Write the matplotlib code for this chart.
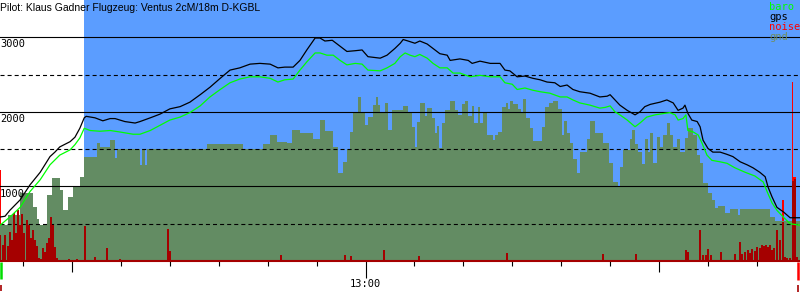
"""
Barogram of a glider flight: gps and baro altitude, ground elevation, engine noise.
"""

import matplotlib
matplotlib.use('Agg')
import matplotlib.pyplot as plt
from matplotlib.ticker import FixedLocator

plt.rcParams['lines.scale_dashes'] = False

# time axis in minutes after midnight
T_START, T_END = 705.28, 868.82
task_start = 722.5
takeoff, landing = 705.5, 868.4

title = 'Pilot: Klaus Gadner Flugzeug: Ventus 2cM/18m D-KGBL'

gps_t = [705.3, 706.3, 707.3, 709.4, 711.4, 713.5, 715.5, 716.5, 717.5, 719.6,
         720.6, 721.6, 722.5, 722.9, 724.7, 726.3, 727.8, 728.8, 730.8, 732.9,
         733.9, 736.0, 738.0, 740.0, 742.1, 744.1, 746.2, 748.2, 750.3, 752.3,
         754.3, 756.4, 758.4, 760.5, 762.1, 763.5, 765.2, 766.6, 768.0, 769.7,
         770.7, 771.7, 773.2, 774.8, 776.2, 777.9, 779.3, 780.5, 783.0, 784.4,
         786.0, 787.1, 787.7, 788.7, 790.1, 791.1, 792.6, 794.2, 795.2, 796.7,
         797.3, 799.3, 801.0, 801.8, 803.4, 805.5, 807.5, 808.5, 809.5, 811.0,
         812.6, 814.2, 815.7, 817.1, 818.7, 819.8, 821.2, 822.4, 823.8, 825.9,
         827.9, 829.4, 830.0, 831.0, 832.0, 833.5, 835.1, 836.1, 837.1, 838.2,
         840.2, 841.6, 842.9, 843.9, 844.9, 845.3, 845.9, 846.7, 847.8, 848.4,
         849.0, 850.0, 851.0, 852.5, 853.9, 855.1, 856.6, 858.0, 859.2, 860.6,
         861.7, 862.3, 863.1, 864.1, 865.4, 866.8, 868.8]
gps_alt = [590, 600, 680, 820, 1020, 1190, 1400, 1460, 1530, 1600,
           1660, 1780, 1920, 1940, 1920, 1880, 1910, 1910, 1870, 1850,
           1870, 1920, 1970, 2040, 2070, 2130, 2230, 2330, 2450, 2560,
           2590, 2640, 2650, 2640, 2590, 2600, 2600, 2690, 2830, 2990,
           2990, 2950, 2960, 2880, 2810, 2820, 2830, 2740, 2720, 2760,
           2850, 2920, 2970, 2950, 2920, 2950, 2910, 2830, 2780, 2760,
           2690, 2710, 2690, 2650, 2680, 2650, 2650, 2560, 2550, 2470,
           2480, 2450, 2430, 2400, 2390, 2340, 2360, 2300, 2270, 2250,
           2200, 2210, 2230, 2160, 2090, 2020, 1960, 2000, 2070, 2100,
           2130, 2160, 2120, 2020, 2050, 2090, 1980, 1890, 1870, 1800,
           1620, 1510, 1460, 1460, 1430, 1400, 1330, 1290, 1250, 1190,
           1130, 990, 860, 720, 660, 580, 580]

baro_t = [705.3, 707.3, 709.4, 711.4, 713.5, 715.5, 717.5, 719.6, 720.6, 721.6,
          722.5, 723.7, 725.7, 727.8, 729.8, 732.5, 733.9, 736.0, 738.0, 740.0,
          742.1, 744.1, 746.2, 748.2, 750.3, 752.3, 754.3, 756.4, 758.4, 760.5,
          762.1, 763.5, 765.2, 766.6, 768.0, 769.7, 770.7, 772.1, 773.4, 774.8,
          776.2, 777.9, 779.3, 780.5, 783.0, 784.4, 786.0, 787.1, 788.1, 789.1,
          790.1, 791.1, 792.6, 793.8, 795.2, 796.7, 797.9, 799.3, 801.4, 803.4,
          805.5, 807.5, 808.5, 810.0, 811.0, 812.6, 814.2, 815.7, 817.7, 819.8,
          821.2, 822.4, 823.8, 825.9, 827.9, 829.0, 830.0, 831.0, 832.0, 833.5,
          835.1, 836.1, 837.5, 839.2, 841.2, 842.2, 843.3, 843.9, 844.9, 845.5,
          845.9, 847.0, 848.0, 848.8, 849.8, 850.8, 852.5, 853.9, 855.5, 857.6,
          859.6, 861.3, 862.1, 863.1, 864.1, 865.4, 866.8, 868.8]
baro_alt = [480, 590, 720, 930, 1090, 1290, 1420, 1490, 1560, 1650,
            1780, 1750, 1740, 1750, 1730, 1700, 1700, 1750, 1820, 1890,
            1930, 1990, 2080, 2200, 2300, 2390, 2440, 2470, 2470, 2450,
            2400, 2430, 2440, 2560, 2670, 2790, 2790, 2760, 2760, 2690,
            2630, 2650, 2640, 2560, 2550, 2590, 2650, 2740, 2790, 2760,
            2740, 2770, 2720, 2650, 2590, 2590, 2520, 2520, 2470, 2490,
            2470, 2470, 2390, 2370, 2300, 2320, 2290, 2270, 2250, 2200,
            2200, 2160, 2120, 2090, 2050, 2060, 2080, 2000, 1960, 1890,
            1800, 1850, 1930, 1960, 1980, 1990, 1960, 1890, 1910, 1960,
            1750, 1730, 1690, 1580, 1420, 1350, 1330, 1310, 1250, 1190,
            1140, 1060, 930, 780, 680, 590, 500, 480]

# ground elevation, each value holds until the next time
gnd_t = [705.3, 706.9, 709.4, 712.0, 712.8, 713.3, 714.9, 715.9, 717.5, 718.2,
         719.2, 720.2, 721.6, 722.5, 725.1, 725.7, 727.8, 728.8, 729.2, 733.9,
         734.3, 734.9, 735.3, 746.2, 747.6, 755.0, 759.0, 760.5, 761.9, 764.0,
         765.0, 766.6, 769.3, 770.7, 771.7, 773.4, 774.4, 775.4, 776.2, 776.8,
         777.4, 778.5, 779.1, 779.9, 780.5, 781.5, 782.1, 782.6, 783.0, 784.0,
         784.6, 785.4, 787.7, 788.7, 789.5, 790.1, 790.5, 791.1, 792.2, 792.6,
         793.6, 794.2, 794.6, 795.0, 795.6, 796.3, 797.3, 798.3, 798.9, 799.7,
         800.3, 801.0, 801.8, 802.2, 803.0, 803.4, 804.0, 804.8, 806.1, 806.5,
         807.1, 807.9, 808.7, 809.1, 809.5, 810.2, 811.2, 811.8, 812.2, 812.8,
         813.6, 814.2, 816.1, 816.7, 817.5, 818.3, 819.4, 820.2, 820.6, 821.2,
         821.8, 822.4, 823.2, 823.8, 825.3, 825.9, 826.9, 828.5, 829.8, 830.6,
         831.6, 832.0, 832.6, 834.1, 834.5, 835.1, 835.7, 836.5, 837.1, 837.8,
         838.2, 838.8, 839.6, 840.2, 840.8, 841.6, 842.2, 842.9, 843.7, 844.3,
         845.3, 845.9, 847.0, 847.8, 848.4, 849.0, 850.0, 850.8, 851.4, 852.1,
         853.5, 854.5, 856.2, 856.6, 862.7, 863.7, 868.8]
gnd_alt = [480, 620, 910, 720, 560, 480, 880, 1110, 950, 680,
           860, 990, 1130, 1400, 1580, 1530, 1620, 1380, 1500, 1290,
           1500, 1290, 1500, 1500, 1570, 1500, 1570, 1690, 1600, 1580,
           1750, 1710, 1640, 1890, 1740, 1530, 1180, 1330, 1500, 1730,
           1980, 2200, 1980, 1830, 1930, 2090, 2200, 2090, 1980, 2120,
           1750, 2020, 2080, 1980, 1800, 1530, 1860, 2120, 1940, 2050,
           1920, 1710, 1810, 1510, 1850, 2020, 2140, 2020, 1960, 2100,
           2140, 1950, 2080, 1850, 2070, 1850, 2000, 1690, 1620, 1690,
           1730, 2060, 2120, 2040, 2140, 2100, 2040, 1980, 2170, 1920,
           1780, 1610, 1800, 2060, 2120, 2140, 2040, 1690, 1880, 1710,
           1580, 1370, 1180, 1460, 1630, 1880, 1710, 1580, 1310, 1060,
           1000, 1260, 1490, 1630, 1750, 1570, 1460, 1300, 1630, 1460,
           1710, 1310, 1660, 1530, 1690, 1850, 1690, 1530, 1630, 1460,
           1650, 1780, 1690, 1420, 1310, 1045, 910, 820, 710, 740,
           640, 700, 620, 700, 590, 540, 540]

# engine noise level (same scale)
noise_t = [705.3, 705.9, 706.3, 706.9, 707.3, 707.7, 708.1, 708.5, 709.0, 709.4,
           709.8, 710.2, 710.8, 711.2, 711.6, 712.0, 712.4, 712.8, 713.3, 713.7,
           714.1, 714.5, 714.9, 715.3, 715.7, 716.1, 716.5, 716.9, 719.4, 721.0,
           722.7, 724.7, 727.2, 729.8, 739.6, 740.0, 758.6, 762.7, 769.3, 775.8,
           777.0, 783.8, 790.9, 808.9, 828.5, 835.3, 845.5, 845.9, 848.4, 849.0,
           849.6, 850.0, 850.6, 852.7, 855.5, 856.6, 857.0, 857.6, 858.2, 858.6,
           859.0, 859.6, 860.0, 860.6, 861.1, 861.5, 861.9, 862.3, 862.7, 863.1,
           863.5, 864.1, 864.7, 865.4, 865.8, 866.2, 866.8, 867.4, 867.8, 868.2]
noise_lvl = [350, 210, 350, 200, 390, 280, 640, 380, 680, 480,
             630, 380, 550, 480, 310, 420, 280, 200, 40, 30,
             170, 120, 240, 310, 590, 480, 190, 40, 30, 30,
             470, 60, 170, 30, 430, 130, 20, 80, 20, 80,
             70, 150, 70, 110, 90, 100, 150, 120, 420, 80,
             80, 160, 80, 120, 90, 250, 100, 120, 150, 110,
             160, 140, 190, 180, 210, 200, 220, 190, 210, 150,
             170, 420, 280, 520, 60, 40, 40, 1070, 1100, 60]

# noise peaks
peak_t = [705.3, 865.4, 867.3, 867.7]
peak_lvl = [1220, 820, 2400, 1130]
peak_w = [0.2, 0.41, 0.3, 0.7]

BLUE = '#5b9dff'
GND = '#638c63'
DARKRED = '#a50000'
RED = '#ff0000'
GREEN = '#00ff00'
MONO = 'DejaVu Sans Mono'

fig = plt.figure(figsize=(8, 3), dpi=100)
ax = fig.add_axes([0, 39 / 300, 1, 261 / 300])
ax.set_xlim(T_START, T_END)
ax.set_ylim(0, 3500)
for s in ax.spines.values():
    s.set_visible(False)

ax.axvspan(task_start, T_END, color=BLUE, lw=0, zorder=0)
# peaks sit behind the ground, the mean noise in front of it
ax.bar(peak_t, peak_lvl, width=peak_w, color=RED, lw=0, zorder=0.5)
ax.fill_between(gnd_t, gnd_alt, step='post', color=GND, lw=0, zorder=1)

for v in [1000, 2000, 3000]:
    ax.axhline(v, color='black', lw=0.8, zorder=2)
for v in [500, 1500, 2500]:
    ax.axhline(v, color='black', lw=0.8, ls=(0, (2.9, 2.2)), zorder=2)

ax.bar(noise_t, noise_lvl, width=0.41, color=DARKRED, lw=0, zorder=3)
ax.axhline(0, color=DARKRED, lw=1.5, clip_on=False, zorder=3)

ax.plot(baro_t, baro_alt, color=GREEN, lw=0.9, zorder=4)
ax.plot(gps_t, gps_alt, color='black', lw=0.9, zorder=5)

# altitude labels under the solid lines
for v in [1000, 2000, 3000]:
    ax.annotate(str(v), (0, v), xycoords=ax.get_yaxis_transform(),
                xytext=(0, -1.5), textcoords='offset points',
                ha='left', va='top', family=MONO, fontsize=7.5)

# takeoff / landing markers below the axis
xt = ax.get_xaxis_transform()
ax.plot([takeoff, takeoff], [-0.005, -0.069], color='#00dd00', lw=1.8,
        transform=xt, clip_on=False, solid_capstyle='butt')
ax.plot([takeoff - 0.1, takeoff - 0.1], [-0.092, -0.115], color=DARKRED, lw=1.2,
        transform=xt, clip_on=False, solid_capstyle='butt')
ax.plot([landing, landing], [-0.005, -0.073], color=RED, lw=1.8,
        transform=xt, clip_on=False, solid_capstyle='butt')
ax.plot([landing, landing], [-0.092, -0.119], color=DARKRED, lw=1.2,
        transform=xt, clip_on=False, solid_capstyle='butt')

# time ticks
ax.set_yticks([])
ax.set_xticks([720, 780, 840])
ax.set_xticklabels(['', '13:00', ''], family=MONO, fontsize=7.5)
ax.xaxis.set_minor_locator(FixedLocator(range(710, 870, 10)))
ax.tick_params(axis='x', which='major', length=8, width=0.8, color='black', pad=5)
ax.tick_params(axis='x', which='minor', length=3.8, width=0.8, color='black')
ax.xaxis.get_major_ticks()[1].tick1line.set_markersize(12.5)

fig.text(0.0, 1 - 8 / 300, title, ha='left', va='center',
         family='Liberation Sans', fontsize=7.45)

legend = [('baro', GREEN), ('gps', 'black'), ('noise', RED), ('gnd', '#6f8f5f')]
for i, (name, col) in enumerate(legend):
    fig.text(769 / 800, 1 - (7 + 10 * i) / 300, name, ha='left', va='center',
             family=MONO, fontsize=7.5, color=col)

fig.savefig('out.png', dpi=100)
